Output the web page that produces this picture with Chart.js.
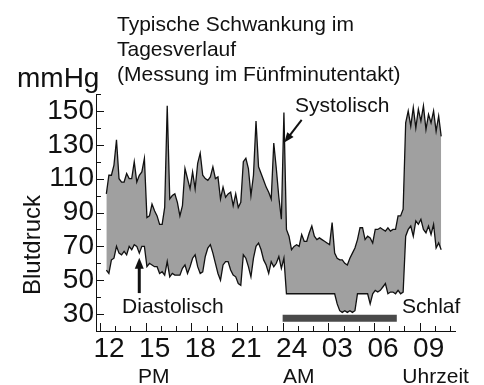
<!DOCTYPE html>
<html>
<head>
<meta charset="utf-8">
<script src="https://cdn.jsdelivr.net/npm/chart.js@4.4.1/dist/chart.umd.min.js"></script>
<style>
  html, body { margin: 0; padding: 0; background: #fff; }
</style>
</head>
<body>
<canvas id="bp" width="484" height="385"></canvas>
<script>
// one reading every 10 minutes, first one at 12:25
var startHour = 12 + 25 / 60;
var stepHours = 10 / 60;

var systolic = [
  101, 112, 112, 118, 133, 110, 108, 108, 113, 110, 110, 120,
  108, 112, 114, 122,  87,  88,  95,  91,  88,  83,  83,  93,
  153,  98, 100, 101,  96,  88,  94, 116, 110, 104, 114, 104,
  119, 125, 112, 110, 109, 111, 117, 110, 111,  98, 105,  99,
  101, 102,  94, 101,  93,  96, 120, 122, 116, 100, 112, 144,
  117, 113, 109, 105, 102,  98, 131, 116,  99,  86, 149,  80,
   76,  68,  70,  71,  70,  77,  73,  73,  78,  82,  76,  74,
   75,  74,  73,  72,  71,  84,  66,  63,  62,  62,  60,  59,
   63,  66,  69,  74,  81,  81,  74,  76,  75,  72,  80,  80,
   81,  80,  79,  81,  79,  80,  80,  88,  88,  92, 143, 150,
  141, 152, 140, 151, 144, 153, 139, 148, 143, 150, 138, 147,
  135
];

var diastolic = [
  56, 54, 62, 63, 70, 66, 65, 67, 65, 70, 68, 71,
  70, 66, 70, 70, 58, 60, 59, 58, 58, 54, 55, 53,
  61, 52, 54, 53, 53, 53, 57, 59, 54, 58, 63, 65,
  58, 54, 55, 64, 69, 71, 66, 60, 54, 50, 59, 61,
  61, 56, 53, 52, 48, 47, 65, 63, 58, 52, 63, 70,
  72, 68, 62, 59, 54, 61, 58, 60, 64, 57, 63, 42,
  42, 42, 42, 42, 42, 42, 42, 42, 42, 42, 42, 42,
  42, 42, 42, 42, 42, 42, 42, 36, 32, 31, 32, 31,
  32, 31, 32, 42, 42, 42, 42, 42, 36, 42, 44, 43,
  44, 46, 48, 42, 43, 43, 42, 44, 42, 43, 76, 80,
  82, 76, 85, 83, 86, 80, 78, 82, 77, 83, 69, 72,
  68
];

// sleep period (hours past midnight of day one) and the level of its bar
var sleepFrom = 24;
var sleepTo = 31.5;
var sleepLevel = 27.5;

var yLabels = [30, 50, 70, 90, 110, 130, 150];
var xLabelHours = [12, 15, 18, 21, 24, 27, 30, 33];
var dayParts = [['PM', 15], ['AM', 24], ['Uhrzeit', 33]];
var titleLines = ['Typische Schwankung im', 'Tagesverlauf', '(Messung im Fünfminutentakt)'];

var INK = '#111';
var FONT = '"Liberation Sans", Arial, sans-serif';

Chart.defaults.font.family = FONT;
Chart.defaults.color = INK;

function points(values) {
  return values.map(function(v, i) {
    return { x: startHour + i * stepHours, y: v };
  });
}

function hourText(h) {
  var v = h > 24 ? h - 24 : h;
  return (v < 10 ? '0' : '') + v;
}

// inward tick marks, longer where a label sits
var tickMarks = {
  id: 'tickMarks',
  afterDraw: function(chart) {
    var ctx = chart.ctx, xs = chart.scales.x, ys = chart.scales.y, a = chart.chartArea;
    ctx.save();
    ctx.strokeStyle = INK;
    ctx.lineWidth = 1;
    ctx.beginPath();
    xs.ticks.forEach(function(t) {
      var px = Math.round(xs.getPixelForValue(t.value)) + 0.5;
      var len = t.label ? 8 : 5;
      ctx.moveTo(px, a.bottom);
      ctx.lineTo(px, a.bottom - len);
    });
    ys.ticks.forEach(function(t) {
      if (t.value <= ys.min) return;
      var py = Math.round(ys.getPixelForValue(t.value)) + 0.5;
      var len = t.label ? 8 : 5;
      ctx.moveTo(a.left, py);
      ctx.lineTo(a.left + len, py);
    });
    ctx.stroke();
    ctx.restore();
  }
};

function arrowHead(ctx, x1, y1, x2, y2, size, width) {
  var ang = Math.atan2(y2 - y1, x2 - x1);
  ctx.beginPath();
  ctx.moveTo(x2, y2);
  ctx.lineTo(x2 - size * Math.cos(ang) + width * Math.sin(ang), y2 - size * Math.sin(ang) - width * Math.cos(ang));
  ctx.lineTo(x2 - size * Math.cos(ang) - width * Math.sin(ang), y2 - size * Math.sin(ang) + width * Math.cos(ang));
  ctx.closePath();
  ctx.fill();
}

function arrow(ctx, x1, y1, x2, y2, lw, size, width) {
  var ang = Math.atan2(y2 - y1, x2 - x1);
  ctx.lineWidth = lw;
  ctx.beginPath();
  ctx.moveTo(x1, y1);
  ctx.lineTo(x2 - size * 0.8 * Math.cos(ang), y2 - size * 0.8 * Math.sin(ang));
  ctx.stroke();
  arrowHead(ctx, x1, y1, x2, y2, size, width);
}

// titles, unit, axis name, day parts and the two pointers
var notes = {
  id: 'notes',
  afterDraw: function(chart) {
    var ctx = chart.ctx, xs = chart.scales.x, ys = chart.scales.y;
    var X = function(h) { return xs.getPixelForValue(h); };
    var Y = function(v) { return ys.getPixelForValue(v); };
    ctx.save();
    ctx.fillStyle = INK;
    ctx.strokeStyle = INK;
    ctx.textBaseline = 'alphabetic';

    ctx.font = '21px ' + FONT;
    ctx.textAlign = 'left';
    titleLines.forEach(function(line, i) {
      ctx.fillText(line, 117, 31 + i * 25);
    });

    ctx.font = '28px ' + FONT;
    ctx.fillText('mmHg', 17, 87);

    ctx.save();
    ctx.font = '24px ' + FONT;
    ctx.translate(40, 245);
    ctx.rotate(-Math.PI / 2);
    ctx.textAlign = 'center';
    ctx.fillText('Blutdruck', 0, 0);
    ctx.restore();

    ctx.font = '21px ' + FONT;
    ctx.textAlign = 'center';
    dayParts.forEach(function(p) {
      var off = p[0] === 'PM' ? 8 : 16;
      ctx.fillText(p[0], X(p[1]) + off, 383);
    });

    ctx.textAlign = 'left';
    ctx.fillText('Systolisch', X(24.81), Y(149.4));
    ctx.fillText('Diastolisch', X(13.45), Y(30.8));
    ctx.fillText('Schlaf', X(31.84), Y(30.8));

    // pointer to the evening spike
    arrow(ctx, X(25.25), Y(144.7), X(24.11), Y(131.3), 2, 10, 4);
    // pointer up to the diastolic line
    arrow(ctx, X(14.58), Y(42.4), X(14.58), Y(63.2), 3, 11, 4.5);

    ctx.restore();
  }
};

new Chart(document.getElementById('bp'), {
  type: 'line',
  data: {
    datasets: [
      {
        label: 'Systolisch',
        data: points(systolic),
        borderColor: INK,
        borderWidth: 1.3,
        backgroundColor: '#a0a0a0',
        fill: '+1',
        pointRadius: 0,
        tension: 0
      },
      {
        label: 'Diastolisch',
        data: points(diastolic),
        borderColor: INK,
        borderWidth: 1.3,
        fill: false,
        pointRadius: 0,
        tension: 0
      },
      {
        label: 'Schlaf',
        data: [{ x: sleepFrom, y: sleepLevel }, { x: sleepTo, y: sleepLevel }],
        borderColor: '#4a4a4a',
        borderWidth: 7,
        borderCapStyle: 'butt',
        fill: false,
        pointRadius: 0
      }
    ]
  },
  options: {
    responsive: false,
    animation: false,
    events: [],
    layout: { padding: { top: 94, right: 28.6, left: 0, bottom: 0 } },
    plugins: {
      legend: { display: false },
      tooltip: { enabled: false },
      filler: { drawTime: 'beforeDatasetsDraw' }
    },
    scales: {
      x: {
        type: 'linear',
        min: 11.737,
        max: 35.35,
        afterFit: function(s) { s.height = 54; },
        grid: { display: false, drawTicks: false },
        border: { display: true, color: INK, width: 1 },
        ticks: {
          stepSize: 1,
          autoSkip: false,
          includeBounds: false,
          maxRotation: 0,
          labelOffset: 9,
          padding: 1,
          color: INK,
          font: { size: 28 },
          callback: function(v) {
            return xLabelHours.indexOf(v) >= 0 ? hourText(v) : '';
          }
        }
      },
      y: {
        min: 20,
        max: 160,
        afterFit: function(s) { s.width = 96; },
        grid: { display: false, drawTicks: false },
        border: { display: true, color: INK, width: 1 },
        ticks: {
          stepSize: 10,
          autoSkip: false,
          includeBounds: false,
          padding: 2,
          color: INK,
          font: { size: 28 },
          callback: function(v) {
            return yLabels.indexOf(v) >= 0 ? String(v) : '';
          }
        }
      }
    }
  },
  plugins: [tickMarks, notes]
});
</script>
</body>
</html>
